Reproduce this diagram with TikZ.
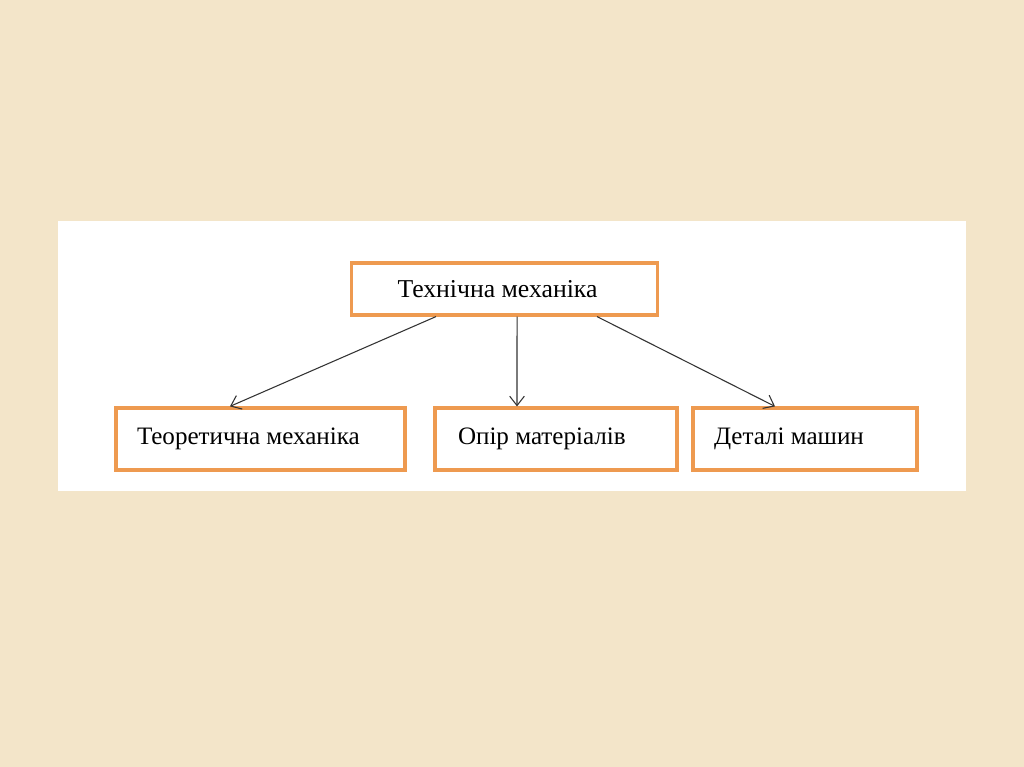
\documentclass[tikz,border=0pt]{standalone}
\usepackage{fontspec}
\setmainfont{Liberation Serif}
\usetikzlibrary{arrows.meta}
\definecolor{bg}{HTML}{F3E5C9}
\definecolor{boxorange}{HTML}{EE9A50}
\definecolor{linegray}{HTML}{333333}
\tikzset{
  box/.style={draw=boxorange, line width=2.4pt, fill=white, rectangle,
    inner ysep=0pt, align=flush left, minimum height=#1,
    font=\fontsize{18.8pt}{22pt}\selectfont},
  conn/.style={draw=linegray, line width=0.8pt, -{Straight Barb[length=7pt,width=11pt]}}
}
\begin{document}
\begin{tikzpicture}[x=0.75pt,y=-0.75pt]
\fill[bg] (0,0) rectangle (1024,767);
\useasboundingbox (0,0) rectangle (1024,767);
\fill[white] (58,221) rectangle (966,491);
% boxes: text width = W - 2*L, inner xsep = L
\node[box=39pt, inner xsep=34.5pt, text width=160.5pt, font=\fontsize{19.3pt}{22pt}\selectfont] (top) at (504.5,289) {Технічна механіка};
\node[box=46.5pt, inner xsep=15.75pt, text width=185.25pt] (left) at (260.5,439) {Теоретична механіка};
\node[box=46.5pt, inner xsep=17.25pt, text width=147pt] (mid) at (556,439) {Опір матеріалів};
\node[box=46.5pt, inner xsep=15.75pt, text width=136.5pt] (right) at (805,439) {Деталі машин};
\draw[conn] ([xshift=-51.4pt]top.south) -- ([xshift=-22.9pt]left.north);
\draw[conn] ([xshift=9.4pt]top.south) -- ([xshift=-29.25pt]mid.north);
\draw[conn] ([xshift=69.4pt]top.south) -- ([xshift=-22.5pt]right.north);
\end{tikzpicture}
\end{document}
